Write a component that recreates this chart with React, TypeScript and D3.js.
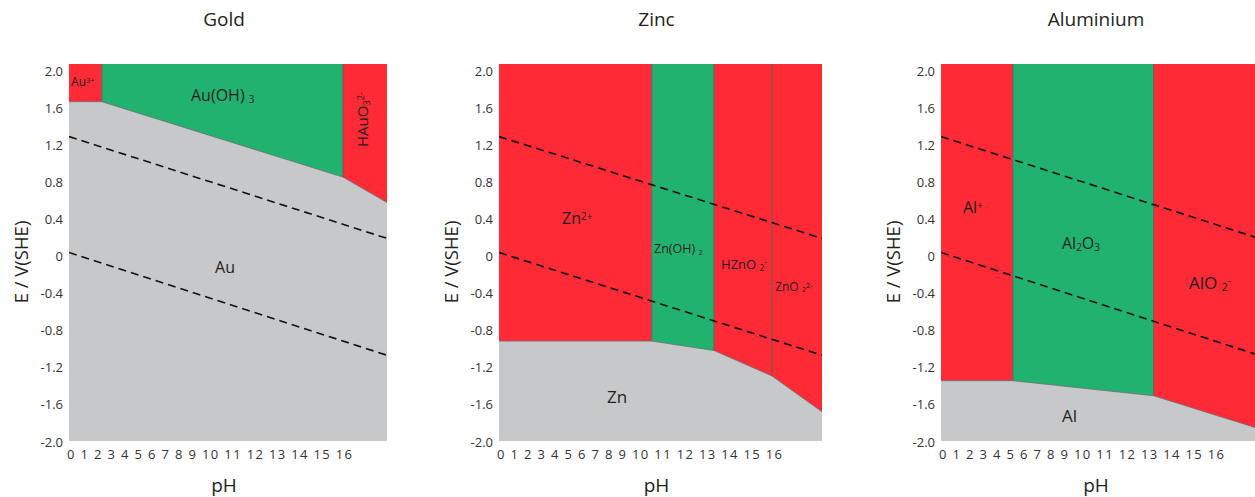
import React from 'react';
import * as d3 from 'd3';

// axes
const PH_MAX = 18.4;
const E_MIN = -2;
const E_MAX = 2;
const eTicks = [2, 1.6, 1.2, 0.8, 0.4, 0, -0.4, -0.8, -1.2, -1.6, -2];
const eTickLabels = ['2.0', '1.6', '1.2', '0.8', '0.4', '0', '-0.4', '-0.8', '-1.2', '-1.6', '-2.0'];
const phTickLabels = ['0', '1', '2', '3', '4', '5', '6', '7', '8', '9', '10', '11', '12', '13', '14', '15', '16'];

// water stability lines (dashed)
const waterO2Ph = [0, 18.4];
const waterO2E = [1.23, 0.15];
const waterH2Ph = [0, 18.4];
const waterH2E = [0, -1.09];

// gold
const goldBoundaryPh = [0, 1.9, 15.85, 18.4];
const goldBoundaryE = [1.6, 1.6, 0.8, 0.53];
const goldBreaks = [1.9, 15.85];
const goldKinds = ['ion', 'solid', 'ion'];

// zinc
const zincBoundaryPh = [0, 8.7, 12.25, 15.55, 18.4];
const zincBoundaryE = [-0.94, -0.94, -1.04, -1.31, -1.69];
const zincBreaks = [8.7, 12.25, 15.55];
const zincKinds = ['ion', 'solid', 'ion', 'ion'];

// aluminium
const alBoundaryPh = [0, 4.16, 12.3, 18.4];
const alBoundaryE = [-1.36, -1.36, -1.52, -1.87];
const alBreaks = [4.16, 12.3];
const alKinds = ['ion', 'solid', 'ion'];

const RED = '#fe2a36';
const GREEN = '#22b26f';
const GREY = '#c7c8ca';
const INK = '#231f20';
const FONT = "'Open Sans', 'Noto Sans', sans-serif";

type Part = [string, 'n' | 'sub' | 'sup'];

const Label = ({ x, y, size, parts, rotate }: { x: number; y: number; size: number; parts: Part[]; rotate?: boolean }) => (
  <text
    x={x}
    y={y}
    fontSize={size}
    fill={INK}
    transform={rotate ? `rotate(-90 ${x} ${y})` : undefined}
  >
    {parts.map(([t, k], i) => (
      <tspan
        key={i}
        fontSize={k === 'n' ? size : size * 0.62}
        baselineShift={k === 'sub' ? '-20%' : k === 'sup' ? '45%' : undefined}
      >
        {t}
      </tspan>
    ))}
  </text>
);

type PanelProps = {
  title: string;
  left: number;
  width: number;
  boundaryPh: number[];
  boundaryE: number[];
  breaks: number[];
  kinds: string[];
  labels: { ph: number; e: number; size: number; parts: Part[]; rotate?: boolean }[];
};

const Panel = ({ title, left, width, boundaryPh, boundaryE, breaks, kinds, labels }: PanelProps) => {
  const x = d3.scaleLinear().domain([0, PH_MAX]).range([left, left + width]);
  const y = d3.scaleLinear().domain([E_MIN, E_MAX]).range([441, 64]);
  // the tick text in the source sits on a slightly tighter scale than the plot
  const yTick = d3.scaleLinear().domain([E_MIN, E_MAX]).range([442, 71]);
  const boundary = d3.scaleLinear().domain(boundaryPh).range(boundaryE);
  const edges = [0, ...breaks, PH_MAX];
  const clipId = `clip-${title}`;

  const metalArea = d3
    .area<number>()
    .x((p) => x(p))
    .y0(y(E_MIN))
    .y1((p) => y(boundary(p)))(boundaryPh);
  const metalLine = d3
    .line<number>()
    .x((p) => x(p))
    .y((p) => y(boundary(p)))(boundaryPh);
  const water = (ph: number[], e: number[]) =>
    d3
      .line<number>()
      .x((p) => x(p))
      .y((_, i) => y(e[i]))(ph);

  const mid = x(PH_MAX / 2) - 4;

  return (
    <g fontFamily={FONT}>
      <clipPath id={clipId}>
        <rect x={x(0)} y={y(E_MAX)} width={x(PH_MAX) - x(0)} height={y(E_MIN) - y(E_MAX)} />
      </clipPath>
      <text x={mid} y={26} textAnchor="middle" fontSize={19} fill={INK}>
        {title}
      </text>
      <g clipPath={`url(#${clipId})`}>
        {edges.slice(0, -1).map((a, i) => (
          <rect
            key={i}
            x={x(a)}
            y={y(E_MAX)}
            width={x(edges[i + 1]) - x(a)}
            height={y(E_MIN) - y(E_MAX)}
            fill={kinds[i] === 'solid' ? GREEN : RED}
          />
        ))}
        <path d={metalArea ?? ''} fill={GREY} />
        <path d={metalLine ?? ''} fill="none" stroke="#6d6e71" strokeWidth={0.8} />
        {breaks.map((b) => (
          <line
            key={b}
            x1={x(b)}
            x2={x(b)}
            y1={y(E_MAX)}
            y2={y(boundary(b))}
            stroke="#5a5b5e"
            strokeWidth={0.9}
          />
        ))}
        <path d={water(waterO2Ph, waterO2E) ?? ''} fill="none" stroke="#111" strokeWidth={1.6} strokeDasharray="8 5" />
        <path d={water(waterH2Ph, waterH2E) ?? ''} fill="none" stroke="#111" strokeWidth={1.6} strokeDasharray="8 5" />
        {labels.map((l, i) => (
          <Label key={i} x={x(l.ph)} y={y(l.e)} size={l.size} parts={l.parts} rotate={l.rotate} />
        ))}
      </g>
      {eTicks.map((v, i) => (
        <text
          key={v}
          x={x(0) - 6}
          y={yTick(v) + 4.5}
          textAnchor="end"
          fontSize={13}
          fill="#333"
        >
          {eTickLabels[i]}
        </text>
      ))}
      <text x={x(0) - 2} y={459} fontSize={13} fill="#333" textLength={285} lengthAdjust="spacing">
        {phTickLabels.join(' ')}
      </text>
      <text
        transform={`translate(${x(0) - 41},${262}) rotate(-90)`}
        textAnchor="middle"
        fontSize={18.5}
        fill={INK}
      >
        E / V(SHE)
      </text>
      <text x={mid} y={492} textAnchor="middle" fontSize={19} fill={INK}>
        pH
      </text>
    </g>
  );
};

export default function App() {
  return (
    <svg
      width={1255}
      height={497}
      style={{ position: 'absolute', left: 0, top: 0, background: '#fff' }}
    >
      <Panel
        title="Gold"
        left={69}
        width={318}
        boundaryPh={goldBoundaryPh}
        boundaryE={goldBoundaryE}
        breaks={goldBreaks}
        kinds={goldKinds}
        labels={[
          { ph: 0.12, e: 1.77, size: 12, parts: [['Au', 'n'], ['3+', 'sup']] },
          { ph: 7.06, e: 1.61, size: 16, parts: [['Au(OH) ', 'n'], ['3', 'sub']] },
          { ph: 17.3, e: 1.12, size: 15, parts: [['HAuO', 'n'], ['3', 'sub'], ['2-', 'sup']], rotate: true },
          { ph: 8.45, e: -0.22, size: 16, parts: [['Au', 'n']] },
        ]}
      />
      <Panel
        title="Zinc"
        left={499}
        width={323}
        boundaryPh={zincBoundaryPh}
        boundaryE={zincBoundaryE}
        breaks={zincBreaks}
        kinds={zincKinds}
        labels={[
          { ph: 3.59, e: 0.3, size: 16, parts: [['Zn', 'n'], ['2+', 'sup']] },
          { ph: 8.83, e: 0.0, size: 12.5, parts: [['Zn(OH) ', 'n'], ['2', 'sub']] },
          { ph: 12.65, e: -0.17, size: 13, parts: [['HZnO ', 'n'], ['2', 'sub'], ['-', 'sup']] },
          { ph: 15.73, e: -0.41, size: 12, parts: [['ZnO ', 'n'], ['2', 'sub'], ['2-', 'sup']] },
          { ph: 6.15, e: -1.6, size: 17, parts: [['Zn', 'n']] },
        ]}
      />
      <Panel
        title="Aluminium"
        left={941}
        width={318}
        boundaryPh={alBoundaryPh}
        boundaryE={alBoundaryE}
        breaks={alBreaks}
        kinds={alKinds}
        labels={[
          { ph: 1.27, e: 0.42, size: 16, parts: [['Al', 'n'], ['+', 'sup']] },
          { ph: 7.0, e: 0.04, size: 16, parts: [['Al', 'n'], ['2', 'sub'], ['O', 'n'], ['3', 'sub']] },
          { ph: 14.35, e: -0.39, size: 17, parts: [['AlO ', 'n'], ['2', 'sub'], ['-', 'sup']] },
          { ph: 7.0, e: -1.8, size: 17, parts: [['Al', 'n']] },
        ]}
      />
    </svg>
  );
}
